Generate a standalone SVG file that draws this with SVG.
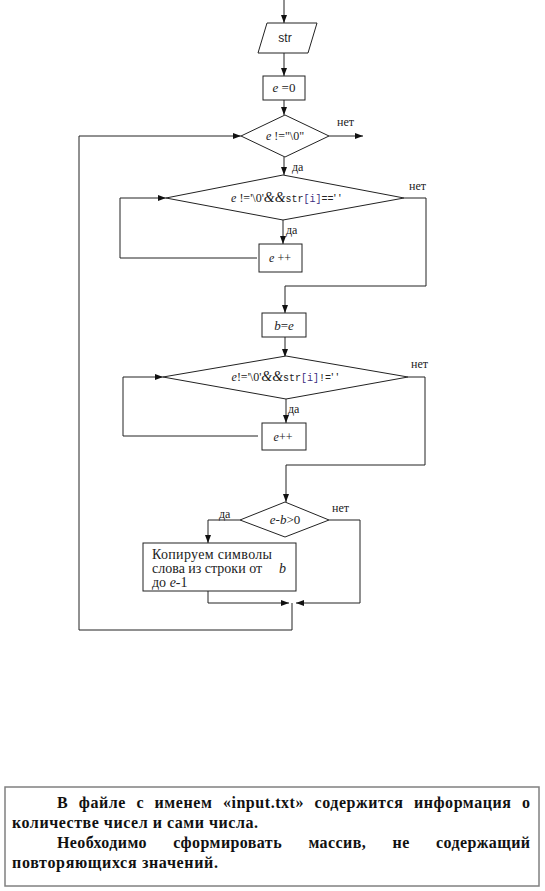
<svg xmlns="http://www.w3.org/2000/svg" width="545" height="891" viewBox="0 0 545 891">
<style>
.sh{fill:#fff;stroke:#222;stroke-width:1}
.cn{fill:none;stroke:#222;stroke-width:1}
text{font-family:'Liberation Serif','DejaVu Serif',serif;fill:#222}
.t{font-size:12px}
.lb{font-size:12px}
.i{font-style:italic}
.m{font-family:'Liberation Mono','DejaVu Sans Mono',monospace;font-size:10px}
.p{fill:#3a2d80}
.bt{font-size:16px;font-weight:bold;fill:#111}
</style>
<defs>
<marker id="ah" markerWidth="8" markerHeight="6" refX="8" refY="3" orient="auto" markerUnits="userSpaceOnUse">
<path d="M0,0 L8,3 L0,6 z" fill="#111"/>
</marker>
</defs>
<rect width="545" height="891" fill="#fff"/>
<g id="connectors" class="cn" marker-end="url(#ah)">
<path d="M284,0 V23"/>
<path d="M284,53 V76"/>
<path d="M284,100 V115"/>
<path d="M329,136 H363"/>
<path d="M284,157 V175"/>
<path d="M283,220 V244"/>
<path d="M257,258 H120 V198 H166"/>
<path d="M404,198 H426 V286 H285 V313"/>
<path d="M285,337 V357"/>
<path d="M286,399 V423"/>
<path d="M258,436 H123 V377 H163"/>
<path d="M408,377 H425 V465 H286 V502"/>
<path d="M240,520 H208 V543"/>
<path d="M329,520 H360 V603 H296"/>
<path d="M208,591 V603 H289"/>
<path d="M292,603 V630 H79 V136 H241"/>
</g>
<g id="n_str">
<polygon class="sh" points="267,23 317,23 308,53 258,53"/>
<text x="285" y="42" text-anchor="middle" style="font-family:'Liberation Sans',Arial,sans-serif;font-size:12px">str</text>
</g>
<g id="n_e0">
<rect class="sh" x="263" y="76" width="42" height="24"/>
<text class="t" x="284" y="92" text-anchor="middle" style="font-size:13px"><tspan class="i">e</tspan> =0</text>
</g>
<g id="n_d1">
<polygon class="sh" points="285,115 329,136 285,157 241,136"/>
<text class="t" x="285" y="140" text-anchor="middle"><tspan class="i">e</tspan> !="\0"</text>
</g>
<g id="n_d2">
<polygon class="sh" points="283,175 404,198 283,220 166,198"/>
<text class="t" x="286" y="202" text-anchor="middle"><tspan class="i">e</tspan> !='\0'<tspan class="i" style="font-size:14px">&amp;&amp;</tspan><tspan class="m">str<tspan class="p">[i]</tspan>==</tspan>' '</text>
</g>
<g id="n_inc1">
<rect class="sh" x="259" y="244" width="43" height="28"/>
<text class="t" x="280" y="262" text-anchor="middle"><tspan class="i">e</tspan> ++</text>
</g>
<g id="n_be">
<rect class="sh" x="262" y="313" width="44" height="24"/>
<text class="t" x="284" y="330" text-anchor="middle" style="font-size:13px"><tspan class="i">b</tspan>=<tspan class="i">e</tspan></text>
</g>
<g id="n_d3">
<polygon class="sh" points="286,356 408,377 286,399 163,377"/>
<text class="t" x="285" y="381" text-anchor="middle"><tspan class="i">e</tspan>!='\0'<tspan class="i" style="font-size:14px">&amp;&amp;</tspan><tspan class="m">str<tspan class="p">[i]</tspan>!=</tspan>' '</text>
</g>
<g id="n_inc2">
<rect class="sh" x="262" y="423" width="44" height="27"/>
<text class="t" x="283" y="441" text-anchor="middle"><tspan class="i">e</tspan>++</text>
</g>
<g id="n_d4">
<polygon class="sh" points="285,502 329,520 285,537 240,520"/>
<text class="t" x="285" y="524" text-anchor="middle" style="font-size:13px"><tspan class="i">e</tspan>-<tspan class="i">b</tspan>&gt;0</text>
</g>
<g id="n_copy">
<rect class="sh" x="143" y="543" width="153" height="48"/>
<text class="t" x="152" y="559" style="font-size:14px" textLength="120" lengthAdjust="spacing">Копируем  символы</text>
<text class="t" y="573" style="font-size:14px"><tspan x="152">слова из строки от</tspan><tspan x="279" class="i">b</tspan></text>
<text class="t" x="152" y="587" style="font-size:14px">до <tspan class="i">e</tspan>-1</text>
</g>
<g id="labels">
<text class="lb" x="337" y="126">нет</text>
<text class="lb" x="292" y="171">да</text>
<text class="lb" x="409" y="190">нет</text>
<text class="lb" x="286" y="234">да</text>
<text class="lb" x="411" y="368">нет</text>
<text class="lb" x="288" y="413">да</text>
<text class="lb" x="219" y="518">да</text>
<text class="lb" x="332" y="512">нет</text>
</g>
<g id="task">
<rect x="5" y="787" width="534" height="99" fill="#fff" stroke="#808080" stroke-width="1.5"/>
<text class="bt" x="57" y="808" style="word-spacing:6px" textLength="473" lengthAdjust="spacing">В файле с именем «input.txt» содержится информация о</text>
<text class="bt" x="12" y="828" textLength="246" lengthAdjust="spacing">количестве чисел и сами числа.</text>
<text class="bt" x="57" y="848" style="word-spacing:22px" textLength="473" lengthAdjust="spacing">Необходимо сформировать массив, не содержащий</text>
<text class="bt" x="12" y="868" textLength="206" lengthAdjust="spacing">повторяющихся  значений.</text>
</g>
</svg>
